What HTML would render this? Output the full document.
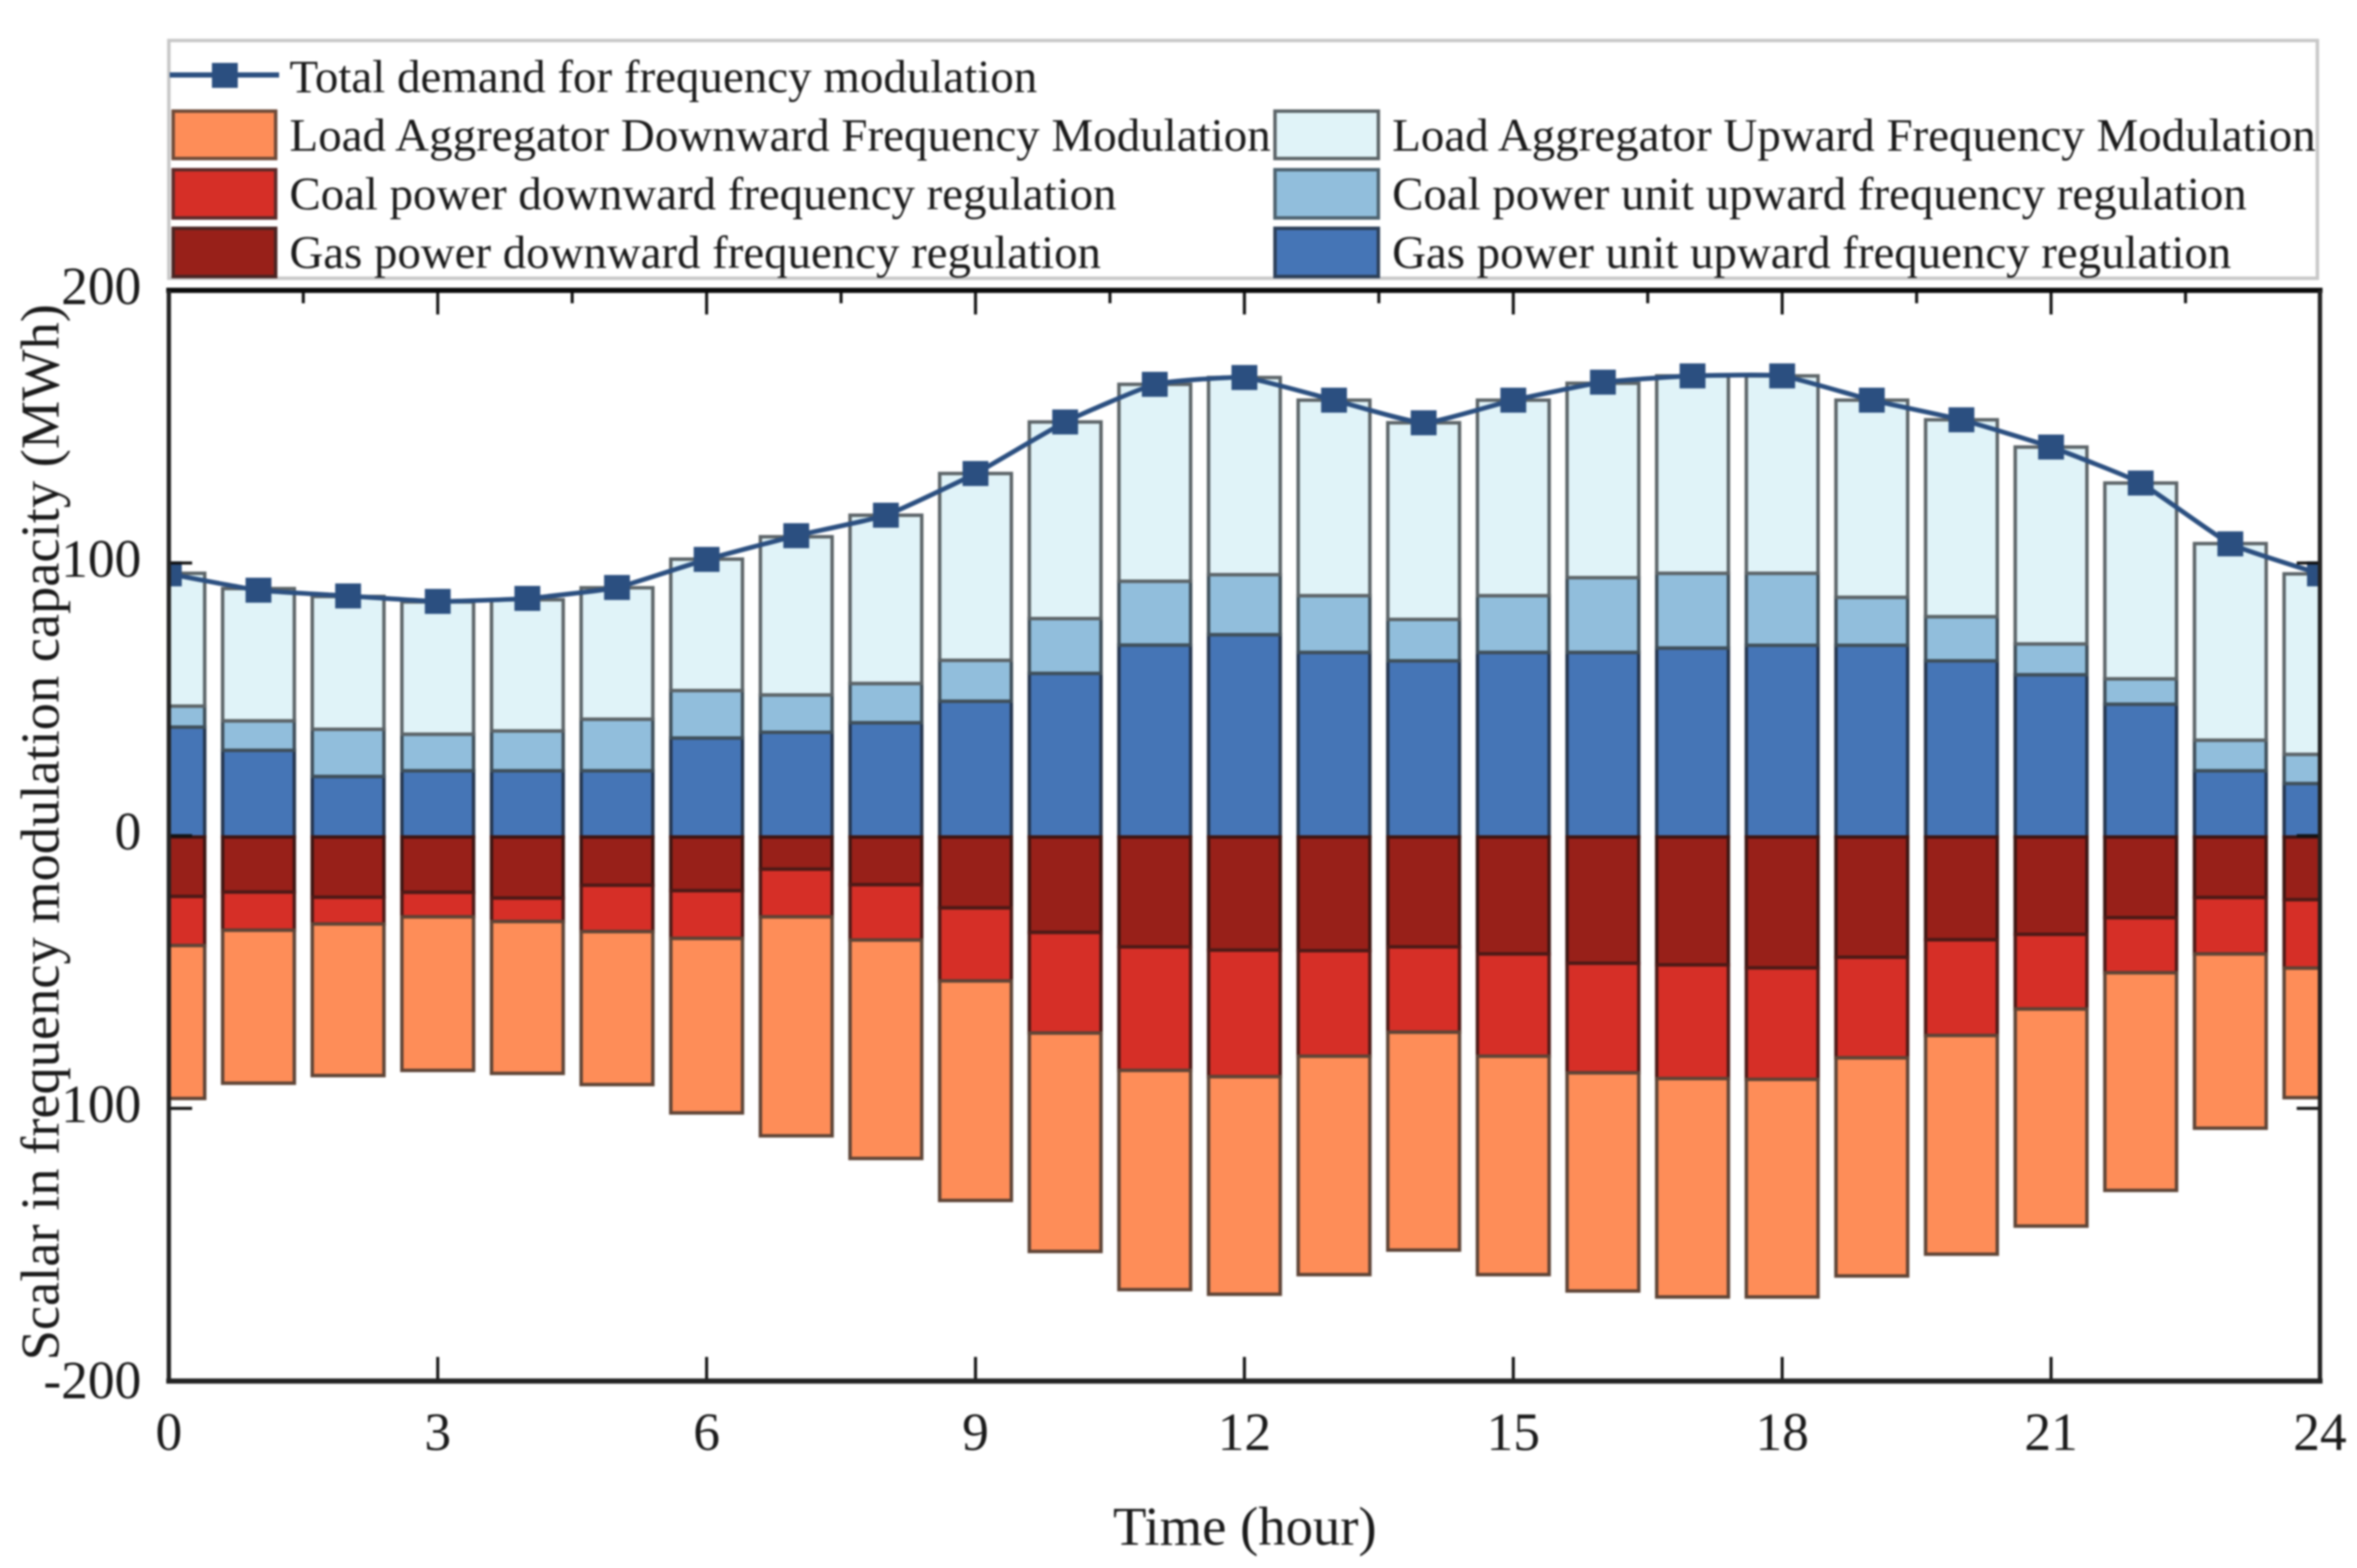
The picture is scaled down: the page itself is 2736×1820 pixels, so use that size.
<!DOCTYPE html>
<html lang="en">
<head>
<meta charset="utf-8">
<title>Scalar in frequency modulation capacity by hour</title>
<style>
  html, body { margin: 0; padding: 0; background: #ffffff; }
  #chart { display: block; width: 2736px; height: 1820px; filter: blur(1.1px); }
  text { font-family: "Liberation Serif", serif; fill: #1a1a1a; }
  .leg { font-size: 54px; }
  .title { font-size: 64px; }
  .tick-label { font-size: 62px; }
</style>
</head>
<body>
<svg id="chart" xmlns="http://www.w3.org/2000/svg" width="2736" height="1820" viewBox="0 0 2736 1820">
  <defs>
    <clipPath id="plot-clip"><rect x="196" y="337" width="2497" height="1266"></rect></clipPath>
  </defs>
  <rect x="0" y="0" width="2736" height="1820" fill="#ffffff"></rect>

  <g>
    <rect x="196" y="47" width="2494" height="276" fill="#ffffff" stroke="#c8c8c8" stroke-width="4"></rect>
    <g>
      <line x1="197" y1="87" x2="324" y2="87" stroke="#2b4f80" stroke-width="6"></line>
      <rect x="246" y="73" width="30" height="29" fill="#2b4f80"></rect>
      <text class="leg" x="336" y="107" textLength="868" lengthAdjust="spacingAndGlyphs">Total demand for frequency modulation</text>
    </g>
    <g>
      <rect x="201" y="129" width="119" height="55" fill="#fe8d58" stroke="#6e4a38" stroke-width="4"></rect>
      <text class="leg" x="336" y="175" textLength="1139" lengthAdjust="spacingAndGlyphs">Load Aggregator Downward Frequency Modulation</text>
    </g>
    <g>
      <rect x="201" y="197" width="119" height="56" fill="#d62f27" stroke="#5c2a28" stroke-width="4"></rect>
      <text class="leg" x="336" y="243" textLength="960" lengthAdjust="spacingAndGlyphs">Coal power downward frequency regulation</text>
    </g>
    <g>
      <rect x="201" y="265" width="119" height="56" fill="#982019" stroke="#4a2422" stroke-width="4"></rect>
      <text class="leg" x="336" y="311" textLength="942" lengthAdjust="spacingAndGlyphs">Gas power downward frequency regulation</text>
    </g>
    <g>
      <rect x="1480" y="129" width="120" height="55" fill="#e0f3f8" stroke="#5c6468" stroke-width="4"></rect>
      <text class="leg" x="1616" y="175" textLength="1072" lengthAdjust="spacingAndGlyphs">Load Aggregator Upward Frequency Modulation</text>
    </g>
    <g>
      <rect x="1480" y="197" width="120" height="56" fill="#91bedc" stroke="#4d626f" stroke-width="4"></rect>
      <text class="leg" x="1616" y="243" textLength="992" lengthAdjust="spacingAndGlyphs">Coal power unit upward frequency regulation</text>
    </g>
    <g>
      <rect x="1480" y="265" width="120" height="56" fill="#4575b6" stroke="#2c3f58" stroke-width="4"></rect>
      <text class="leg" x="1616" y="311" textLength="974" lengthAdjust="spacingAndGlyphs">Gas power unit upward frequency regulation</text>
    </g>
  </g>

  <g id="bars" clip-path="url(#plot-clip)"></g>
  <g id="demand" clip-path="url(#plot-clip)"></g>
  <g id="ticks"></g>
  <g id="axes"></g>
  <g id="tick-labels"></g>

  <text class="title" x="1445" y="1793" text-anchor="middle" textLength="306" lengthAdjust="spacingAndGlyphs">Time (hour)</text>
  <text class="title" transform="translate(68 1579) rotate(-90)" x="0" y="0" textLength="1226" lengthAdjust="spacingAndGlyphs">Scalar in frequency modulation capacity (MWh)</text>
</svg>

<script>
const hours = [0,1,2,3,4,5,6,7,8,9,10,11,12,13,14,15,16,17,18,19,20,21,22,23,24];
const totalDemand = [96.5,90.5,88.4,86.4,87.5,91.5,101.8,110.5,118,133.3,152.2,166,168.5,160.2,151.9,160.2,166.8,169.1,169.1,160.2,153,143,129.8,107.5,96.5];
const gasUp = [40.3,31.8,22.2,24.3,24.3,24.3,36.3,38.4,41.9,49.8,60,70.4,74.2,67.7,64.6,67.7,67.7,69.3,70.3,70.3,64.6,59.5,48.7,24.3,19.6];
const coalUp = [7.7,10.8,17.3,13.4,14.6,18.9,17.4,13.7,14.4,15,20.1,23.4,22,20.8,15.2,20.8,27.4,27.4,26.4,17.6,16.2,11.3,9.3,11.2,10.7];
const aggregatorUp = [48.7,48.5,48.7,48.5,48.1,48.2,48.2,58,61.7,68.5,72.1,72.2,72.3,71.7,72.1,71.7,71.3,72.4,72.4,72.3,72.2,72.2,71.8,72.1,66.2];
const gasDown = [21.8,20.2,22.1,20.3,22.4,17.7,19.7,11.8,17.5,26,35,40.3,41.5,41.7,40.3,42.9,46.3,46.9,48,44.1,37.7,35.7,29.6,22.2,23];
const coalDown = [18,14,9.8,9,8.6,17,17.5,17.5,20.3,26.8,36.9,45.3,46.4,38.7,31.3,37.5,40.2,41.7,40.9,36.9,35.1,27.4,20.2,20.7,25.1];
const aggregatorDown = [56.1,56.1,55.6,56.3,55.7,56.1,64,80.3,80.1,80.5,80.1,80.4,79.8,80.1,79.9,80.1,80,80.1,79.8,80,80.2,79.6,79.8,63.9,47.5];
const xMajorTicks = [0,3,6,9,12,15,18,21,24];
const xMinorTicks = [1.5,4.5,7.5,10.5,13.5,16.5,19.5,22.5];
const yTicks = [100,0,-100];
const yLabelValues = [200,100,0,-100,-200];
const yLabelTexts = ["200","100","0","100","-200"];

const NS = "http://www.w3.org/2000/svg";
const plot = { left: 196, right: 2693, top: 337, bottom: 1603 };
const hourSpan = 24, valueMax = 200, valueMin = -200;
const barWidthHours = 0.8;
const markOffsetY = 1.5;
const curveSoftness = 14;

function xScale(h) {
  return plot.left + (h / hourSpan) * (plot.right - plot.left);
}
function yScale(v) {
  return plot.top + ((valueMax - v) / (valueMax - valueMin)) * (plot.bottom - plot.top);
}
function markY(v) {
  return yScale(v) + markOffsetY;
}
function make(tag, attrs, parent) {
  const node = document.createElementNS(NS, tag);
  for (const k in attrs) node.setAttribute(k, attrs[k]);
  parent.appendChild(node);
  return node;
}

const barsG = document.getElementById("bars");
const barWidth = xScale(barWidthHours) - xScale(0);

function drawStack(name, values, bases, dir, fill, stroke) {
  values.forEach(function (val, i) {
    const a = markY(dir * bases[i]);
    const b = markY(dir * (bases[i] + val));
    const el = make("rect", {
      x: xScale(hours[i]) - barWidth / 2,
      y: Math.min(a, b),
      width: barWidth,
      height: Math.abs(b - a),
      fill: fill,
      stroke: stroke,
      "stroke-width": 4
    }, barsG);
    
    
    bases[i] += val;
  });
}

const upBase = hours.map(function () { return 0; });
const downBase = hours.map(function () { return 0; });
drawStack("gas-up", gasUp, upBase, 1, "#4575b6", "#25364f");
drawStack("coal-up", coalUp, upBase, 1, "#91bedc", "#3f4f5a");
drawStack("aggregator-up", aggregatorUp, upBase, 1, "#e0f3f8", "#5c6468");
drawStack("gas-down", gasDown, downBase, -1, "#982019", "#3d1512");
drawStack("coal-down", coalDown, downBase, -1, "#d62f27", "#4d1a17");
drawStack("aggregator-down", aggregatorDown, downBase, -1, "#fe8d58", "#5e4436");

/* lightly smoothed line through the demand points */
const demandG = document.getElementById("demand");
const pts = totalDemand.map(function (v, i) { return [xScale(hours[i]), markY(v)]; });
let pathD = "M" + pts[0][0] + " " + pts[0][1];
for (let i = 0; i < pts.length - 1; i++) {
  const p0 = pts[Math.max(i - 1, 0)], p1 = pts[i], p2 = pts[i + 1], p3 = pts[Math.min(i + 2, pts.length - 1)];
  const c1x = p1[0] + (p2[0] - p0[0]) / curveSoftness, c1y = p1[1] + (p2[1] - p0[1]) / curveSoftness;
  const c2x = p2[0] - (p3[0] - p1[0]) / curveSoftness, c2y = p2[1] - (p3[1] - p1[1]) / curveSoftness;
  pathD += " C" + c1x + " " + c1y + " " + c2x + " " + c2y + " " + p2[0] + " " + p2[1];
}
const demandLine = make("path", { d: pathD, fill: "none", stroke: "#2b4f80", "stroke-width": 5.5 }, demandG);



pts.forEach(function (p, i) {
  const m = make("rect", { x: p[0] - 15, y: p[1] - 14.5, width: 30, height: 29, fill: "#2b4f80" }, demandG);
  
  
});

/* ticks */
const ticksG = document.getElementById("ticks");
const majorLen = 28, minorLen = 15;
xMajorTicks.forEach(function (h) {
  const t = make("line", { x1: xScale(h), x2: xScale(h), y1: plot.top, y2: plot.top + majorLen, stroke: "#111", "stroke-width": 3.5 }, ticksG);
  
  
  const b = make("line", { x1: xScale(h), x2: xScale(h), y1: plot.bottom, y2: plot.bottom - majorLen, stroke: "#111", "stroke-width": 3.5 }, ticksG);
  
  
});
xMinorTicks.forEach(function (h) {
  const t = make("line", { x1: xScale(h), x2: xScale(h), y1: plot.top, y2: plot.top + minorLen, stroke: "#111", "stroke-width": 3.5 }, ticksG);
  
  
});
yTicks.forEach(function (v) {
  const l = make("line", { x1: plot.left, x2: plot.left + 27, y1: yScale(v), y2: yScale(v), stroke: "#111", "stroke-width": 3.5 }, ticksG);
  
  
  const r = make("line", { x1: plot.right, x2: plot.right - 27, y1: yScale(v), y2: yScale(v), stroke: "#111", "stroke-width": 3.5 }, ticksG);
  
  
});

/* axis frame */
const axesG = document.getElementById("axes");
const topAxis = make("line", { x1: plot.left - 3, x2: plot.right + 3, y1: plot.top, y2: plot.top, stroke: "#0a0a0a", "stroke-width": 6 }, axesG);


const bottomAxis = make("line", { x1: plot.left - 3, x2: plot.right + 3, y1: plot.bottom, y2: plot.bottom, stroke: "#222", "stroke-width": 6 }, axesG);


const leftAxis = make("line", { x1: plot.left, x2: plot.left, y1: plot.top, y2: plot.bottom, stroke: "#222", "stroke-width": 5 }, axesG);


const rightAxis = make("line", { x1: plot.right, x2: plot.right, y1: plot.top, y2: plot.bottom, stroke: "#222", "stroke-width": 5 }, axesG);



/* tick labels */
const labelsG = document.getElementById("tick-labels");
xMajorTicks.forEach(function (h) {
  const t = make("text", { class: "tick-label", x: xScale(h), y: 1683, "text-anchor": "middle" }, labelsG);
  t.textContent = String(h);
  
  
});
yLabelValues.forEach(function (v, i) {
  const extra = v === -200 ? 4 : 0;
  const t = make("text", { class: "tick-label", x: 164, y: yScale(v) + 16 + extra, "text-anchor": "end" }, labelsG);
  t.textContent = yLabelTexts[i];
  
  
});
</script>
</body>
</html>
